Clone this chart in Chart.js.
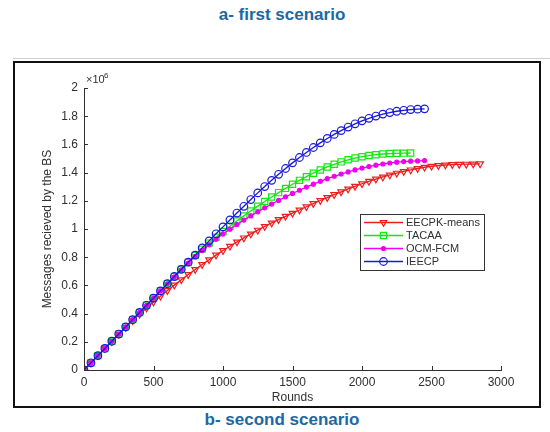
<!DOCTYPE html>
<html>
<head>
<meta charset="utf-8">
<script src="https://cdn.jsdelivr.net/npm/chart.js"></script>
<style>
  body { margin: 0; width: 550px; height: 432px; background: #fff; position: relative; overflow: hidden;
         font-family: "Liberation Sans", Arial, Helvetica, sans-serif; }
  .cap { position: absolute; left: 282px; transform: translateX(-50%); white-space: nowrap;
         color: #1b68a4; font-weight: bold; font-size: 17px; }
  #capA { top: 5px; }
  #capB { top: 410px; }
  #rule { position: absolute; left: 13px; right: 0; top: 58px; height: 1px; background: #cfcfcf; }
  #frame { position: absolute; left: 13px; top: 61px; width: 528px; height: 347px; box-sizing: border-box;
           border: 2px solid #111; }
  #wrap { position: absolute; left: 15px; top: 63px; width: 524px; height: 343px; }
</style>
</head>
<body>
<div id="capA" class="cap">a- first scenario</div>
<div id="rule"></div>
<div id="frame"></div>
<div id="wrap"><canvas id="chart"></canvas></div>
<div id="capB" class="cap">b- second scenario</div>

<script>
// rounds, every 50 up to the longest run
const rounds = [0, 50, 100, 150, 200, 250, 300, 350, 400, 450, 500, 550, 600, 650, 700, 750, 800, 850, 900, 950,
    1000, 1050, 1100, 1150, 1200, 1250, 1300, 1350, 1400, 1450, 1500, 1550, 1600, 1650, 1700, 1750, 1800, 1850, 1900, 1950,
    2000, 2050, 2100, 2150, 2200, 2250, 2300, 2350, 2400, 2450, 2500, 2550, 2600, 2650, 2700, 2750, 2800, 2850];

// messages received by the BS, x10^6
const eecpk = [0, 0.051, 0.102, 0.153, 0.203, 0.253, 0.302, 0.35, 0.396, 0.44, 0.482, 0.523, 0.563, 0.602, 0.64, 0.677, 0.713, 0.748, 0.782, 0.815,
    0.847, 0.878, 0.908, 0.937, 0.965, 0.992, 1.018, 1.043, 1.067, 1.09, 1.112, 1.135, 1.158, 1.18, 1.202, 1.223, 1.244, 1.264, 1.284, 1.303,
    1.321, 1.338, 1.354, 1.369, 1.383, 1.396, 1.408, 1.419, 1.429, 1.438, 1.445, 1.45, 1.454, 1.457, 1.459, 1.46, 1.461, 1.462];

const tacaa = [0, 0.051, 0.102, 0.153, 0.204, 0.255, 0.306, 0.357, 0.408, 0.459, 0.51, 0.561, 0.612, 0.663, 0.714, 0.763, 0.812, 0.857, 0.9, 0.942,
    0.982, 1.02, 1.057, 1.093, 1.128, 1.162, 1.195, 1.227, 1.258, 1.288, 1.317, 1.345, 1.371, 1.396, 1.419, 1.44, 1.459, 1.476, 1.491, 1.503,
    1.513, 1.521, 1.527, 1.532, 1.535, 1.537, 1.538, 1.539];

const ocmfcm = [0, 0.051, 0.102, 0.153, 0.204, 0.255, 0.306, 0.357, 0.408, 0.459, 0.51, 0.561, 0.611, 0.661, 0.71, 0.759, 0.806, 0.848, 0.888, 0.927,
    0.964, 0.999, 1.032, 1.063, 1.093, 1.122, 1.15, 1.177, 1.203, 1.228, 1.252, 1.275, 1.297, 1.318, 1.338, 1.357, 1.374, 1.39, 1.405, 1.419,
    1.432, 1.443, 1.453, 1.461, 1.468, 1.474, 1.478, 1.481, 1.483, 1.485];

const ieecp = [0, 0.051, 0.102, 0.153, 0.204, 0.255, 0.306, 0.357, 0.408, 0.459, 0.51, 0.561, 0.612, 0.663, 0.714, 0.765, 0.815, 0.866, 0.916, 0.966,
    1.015, 1.064, 1.113, 1.161, 1.209, 1.256, 1.301, 1.345, 1.388, 1.429, 1.469, 1.507, 1.543, 1.578, 1.611, 1.642, 1.671, 1.698, 1.723, 1.746,
    1.767, 1.785, 1.801, 1.815, 1.826, 1.835, 1.842, 1.847, 1.85, 1.852];

const seriesNames = ["EECPK-means", "TACAA", "OCM-FCM", "IEECP"];
const xTicks = [0, 500, 1000, 1500, 2000, 2500, 3000];
const yTicks = [0, 0.2, 0.4, 0.6, 0.8, 1, 1.2, 1.4, 1.6, 1.8, 2];

const FONT = '"Liberation Sans", Arial, Helvetica, sans-serif';
const INK = "#303030";

function pts(vals) {
    return vals.map((v, i) => ({ x: rounds[i], y: v }));
}

const datasets = [
    { label: seriesNames[0], data: pts(eecpk), borderColor: "rgb(235,30,30)", pointStyle: "triangle", pointRotation: 180,
      pointRadius: 3.8, pointBorderColor: "rgb(235,30,30)", pointBackgroundColor: "rgba(255,255,255,0)", order: 3 },
    { label: seriesNames[1], data: pts(tacaa), borderColor: "rgb(20,230,20)", pointStyle: "rect",
      pointRadius: 4.4, pointBorderColor: "rgb(20,230,20)", pointBackgroundColor: "rgba(255,255,255,0)", order: 2 },
    { label: seriesNames[2], data: pts(ocmfcm), borderColor: "rgb(240,0,240)", pointStyle: "circle",
      pointRadius: 2, pointBorderColor: "rgb(240,0,240)", pointBackgroundColor: "rgb(240,0,240)", order: 1 },
    { label: seriesNames[3], data: pts(ieecp), borderColor: "rgb(25,25,220)", pointStyle: "circle",
      pointRadius: 3.8, pointBorderColor: "rgb(25,25,220)", pointBackgroundColor: "rgba(255,255,255,0)", order: 0 }
];
datasets.forEach(d => {
    d.borderWidth = 1.3;
    d.pointBorderWidth = 1.2;
    d.tension = 0;
    d.fill = false;
});

// MATLAB style: inward ticks, x10^6 exponent, legend box inside the axes
const matlabBits = {
    id: "matlabBits",
    afterDraw(c) {
        const ctx = c.ctx;
        const a = c.chartArea;
        const xs = c.scales.x, ys = c.scales.y;
        ctx.save();
        ctx.strokeStyle = INK;
        ctx.lineWidth = 1;
        xTicks.forEach(t => {
            const px = Math.round(xs.getPixelForValue(t)) + 0.5;
            ctx.beginPath(); ctx.moveTo(px, a.bottom); ctx.lineTo(px, a.bottom - 4); ctx.stroke();
        });
        yTicks.forEach(t => {
            const py = Math.round(ys.getPixelForValue(t)) + 0.5;
            ctx.beginPath(); ctx.moveTo(a.left, py); ctx.lineTo(a.left + 4, py); ctx.stroke();
        });

        ctx.fillStyle = INK;
        ctx.textBaseline = "alphabetic";
        ctx.textAlign = "left";
        ctx.font = "11px " + FONT;
        ctx.fillText("\u00d710", a.left + 2, a.top - 5);
        ctx.font = "8px " + FONT;
        ctx.fillText("6", a.left + 20, a.top - 10);

        // legend
        const bx = 345, by = 151, bw = 124, bh = 56;
        ctx.fillStyle = "#fff";
        ctx.fillRect(bx, by, bw, bh);
        ctx.strokeStyle = "#333";
        ctx.lineWidth = 1;
        ctx.strokeRect(bx + 0.5, by + 0.5, bw, bh);
        const rowY = [159.5, 172.5, 185.5, 198.5];
        datasets.forEach((d, i) => {
            const y = rowY[i];
            ctx.strokeStyle = d.borderColor;
            ctx.lineWidth = 1.3;
            ctx.beginPath(); ctx.moveTo(bx + 4, y); ctx.lineTo(bx + 43, y); ctx.stroke();
            ctx.lineWidth = 1.2;
            ctx.fillStyle = d.pointBackgroundColor;
            Chart.helpers.drawPoint(ctx, {
                pointStyle: d.pointStyle, rotation: d.pointRotation || 0,
                radius: d.pointRadius, borderWidth: 1.2
            }, bx + 23.5, y);
            ctx.fillStyle = INK;
            ctx.font = "11px " + FONT;
            ctx.textBaseline = "middle";
            ctx.fillText(d.label, bx + 46, y + 0.5);
        });
        ctx.restore();
    }
};

new Chart(document.getElementById("chart"), {
    type: "line",
    data: { datasets },
    options: {
        responsive: true,
        maintainAspectRatio: false,
        animation: false,
        layout: { padding: { left: 0, right: 38, top: 25, bottom: 0 } },
        scales: {
            x: {
                type: "linear", min: 0, max: 3000,
                afterFit: s => { s.height = 36; },
                afterBuildTicks: s => { s.ticks = xTicks.map(v => ({ value: v })); },
                grid: { display: true, drawOnChartArea: false, drawTicks: false },
                border: { display: true, color: INK, width: 1 },
                ticks: { color: INK, padding: 5, maxRotation: 0, font: { family: FONT, size: 12 },
                         callback: v => String(v) },
                title: { display: true, text: "Rounds", color: INK, padding: { top: 0, bottom: 1 },
                         font: { family: FONT, size: 12 } }
            },
            y: {
                type: "linear", min: 0, max: 2,
                afterFit: s => { s.width = 69; },
                afterBuildTicks: s => { s.ticks = yTicks.map(v => ({ value: v })); },
                grid: { display: true, drawOnChartArea: false, drawTicks: false },
                border: { display: true, color: INK, width: 1 },
                ticks: { color: INK, padding: 6, font: { family: FONT, size: 12 },
                         callback: v => String(Math.round(v * 10) / 10) },
                title: { display: true, text: "Messages recieved by the BS", color: INK,
                         padding: { top: 25, bottom: 0 }, font: { family: FONT, size: 12 } }
            }
        },
        plugins: {
            legend: { display: false },
            tooltip: { enabled: false }
        }
    },
    plugins: [matlabBits]
});
</script>
</body>
</html>
